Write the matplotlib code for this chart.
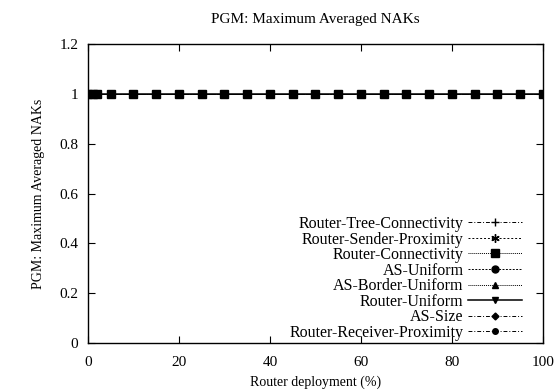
import matplotlib
matplotlib.use("Agg")
import matplotlib.pyplot as plt

plt.rcParams['font.family'] = ['Liberation Serif', 'DejaVu Serif']

x = [0, 1, 2] + list(range(5, 101, 5))
series_names = ["Router-Tree-Connectivity", "Router-Sender-Proximity", "Router-Connectivity",
                "AS-Uniform", "AS-Border-Uniform", "Router-Uniform", "AS-Size",
                "Router-Receiver-Proximity"]
values = {name: [1.0] * len(x) for name in series_names}

styles = {
    "Router-Tree-Connectivity": dict(ls=(0, (4, 2, 1, 2)), marker='+', ms=6, lw=0.7),
    "Router-Sender-Proximity": dict(ls=(0, (2, 2)), marker=(6, 2, 0), ms=6, lw=0.7),
    "Router-Connectivity": dict(ls=(0, (1, 1)), marker='s', ms=5.5, lw=0.7),
    "AS-Uniform": dict(ls=(0, (2, 1.5)), marker='o', ms=5, lw=0.7),
    "AS-Border-Uniform": dict(ls=(0, (1, 1)), marker='^', ms=4, lw=0.7),
    "Router-Uniform": dict(ls='-', marker='v', ms=4, lw=1.1),
    "AS-Size": dict(ls=(0, (4, 2, 1, 2)), marker='D', ms=3.5, lw=0.7),
    "Router-Receiver-Proximity": dict(ls=(0, (4, 2, 1, 2)), marker='o', ms=4, lw=0.7),
}

fig = plt.figure(figsize=(5.55, 3.9), dpi=100)
ax = fig.add_axes([0.1586, 0.1205, 0.8194, 0.7665])

for i, name in enumerate(series_names):
    z = 10 if name == "Router-Connectivity" else 2 + i
    ax.plot(x, values[name], color='black', label=name, zorder=z, **styles[name])

ax.set_xlim(0, 100)
ax.set_ylim(0, 1.2)
ax.set_xticks([0, 20, 40, 60, 80, 100])
ax.set_yticks([0, 0.2, 0.4, 0.6, 0.8, 1, 1.2])
ax.set_yticklabels(['0', '0.2', '0.4', '0.6', '0.8', '1', '1.2'])
ax.tick_params(direction='in', top=True, right=True, labelsize=11, length=5)
ax.tick_params(axis='x', pad=9)
ax.tick_params(axis='y', pad=7)
for s in ax.spines.values():
    s.set_linewidth(1.0)

ax.set_title("PGM: Maximum Averaged NAKs", fontsize=11, pad=15)
ax.set_xlabel("Router deployment (%)", fontsize=10, labelpad=5)
ax.set_ylabel("PGM: Maximum Averaged NAKs", fontsize=10, labelpad=10)

leg = ax.legend(loc='lower right', frameon=False, markerfirst=False, fontsize=11.5,
                handlelength=3.4, labelspacing=-0.03, borderaxespad=0.4, handletextpad=0.25,
                bbox_to_anchor=(0.982, -0.035))
for t in leg.get_texts():
    t.set_ha('right')
leg._legend_box.align = 'right'

fig.savefig("out.png", dpi=100)
